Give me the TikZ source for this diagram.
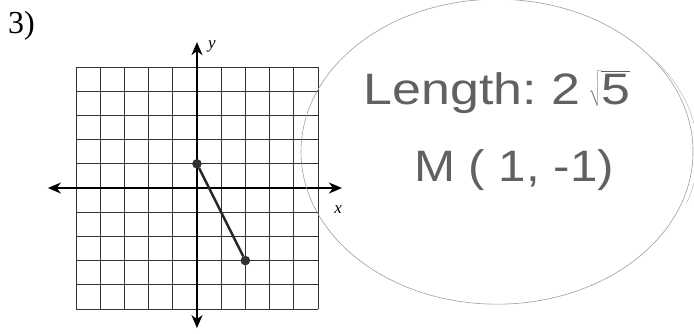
\documentclass[tikz,border=0pt]{standalone}
\usepackage{fontspec}
\setmainfont{Liberation Serif}
\newfontfamily\handfont{Liberation Sans}
\usetikzlibrary{arrows.meta}

\tikzset{
  gridline/.style={draw=black!80, line width=0.9pt},
  axisline/.style={draw=black, line width=1.7pt, {Stealth[length=13pt,width=11pt,inset=4pt]}-{Stealth[length=13pt,width=11pt,inset=4pt]}},
  ptdot/.style={circle, draw=black!85, fill=black!80, minimum size=9pt, inner sep=0pt},
  hand/.style={font=\handfont\fontsize{44}{48}\selectfont, text=black!62}
}

\begin{document}
\begin{tikzpicture}[x=24.2pt, y=24.2pt]
\useasboundingbox (-8.14,-6.03) rectangle (20.54,7.77);

% problem number
\node[font=\fontsize{32}{34}\selectfont] (num) at (-7.25,6.72) {3)};

% grid
\foreach \k in {-5,...,5} {
  \draw[gridline] (\k,-5) -- (\k,5);
  \draw[gridline] (-5,\k) -- (5,\k);
}

% axes
\coordinate (xl) at (-6.16,0);
\coordinate (xr) at (5.99,0);
\coordinate (yb) at (0,-5.79);
\coordinate (yt) at (0,6.03);
\draw[axisline] (xl) -- (xr);
\draw[axisline] (yb) -- (yt);
\node[font=\itshape\fontsize{17}{18}\selectfont] (xlab) at (5.83,-0.91) {x};
\node[font=\itshape\fontsize{17}{18}\selectfont] (ylab) at (0.62,5.85) {y};

% segment
\node[ptdot] (pa) at (0,1) {};
\node[ptdot] (pb) at (2,-3) {};
\draw[line width=2.4pt, black!85] (pa) -- (pb);

% answer bubble
\draw[black!38, line width=0.6pt] (12.40,1.50) ellipse [x radius=8.1, y radius=6.3];
\draw[black!28, line width=0.5pt] (18.9,5.3) arc[start angle=40, end angle=-20, x radius=7.7, y radius=6.0];
\node[hand] (len) at (12.40,3.97) {\scalebox{1.18}[1]{Length:\ 2\,$\sqrt{\mbox{\handfont 5}}$}};
\node[hand] (mid) at (13.10,0.74) {\scalebox{1.12}[1]{M ( 1, -1)}};
\end{tikzpicture}
\end{document}
